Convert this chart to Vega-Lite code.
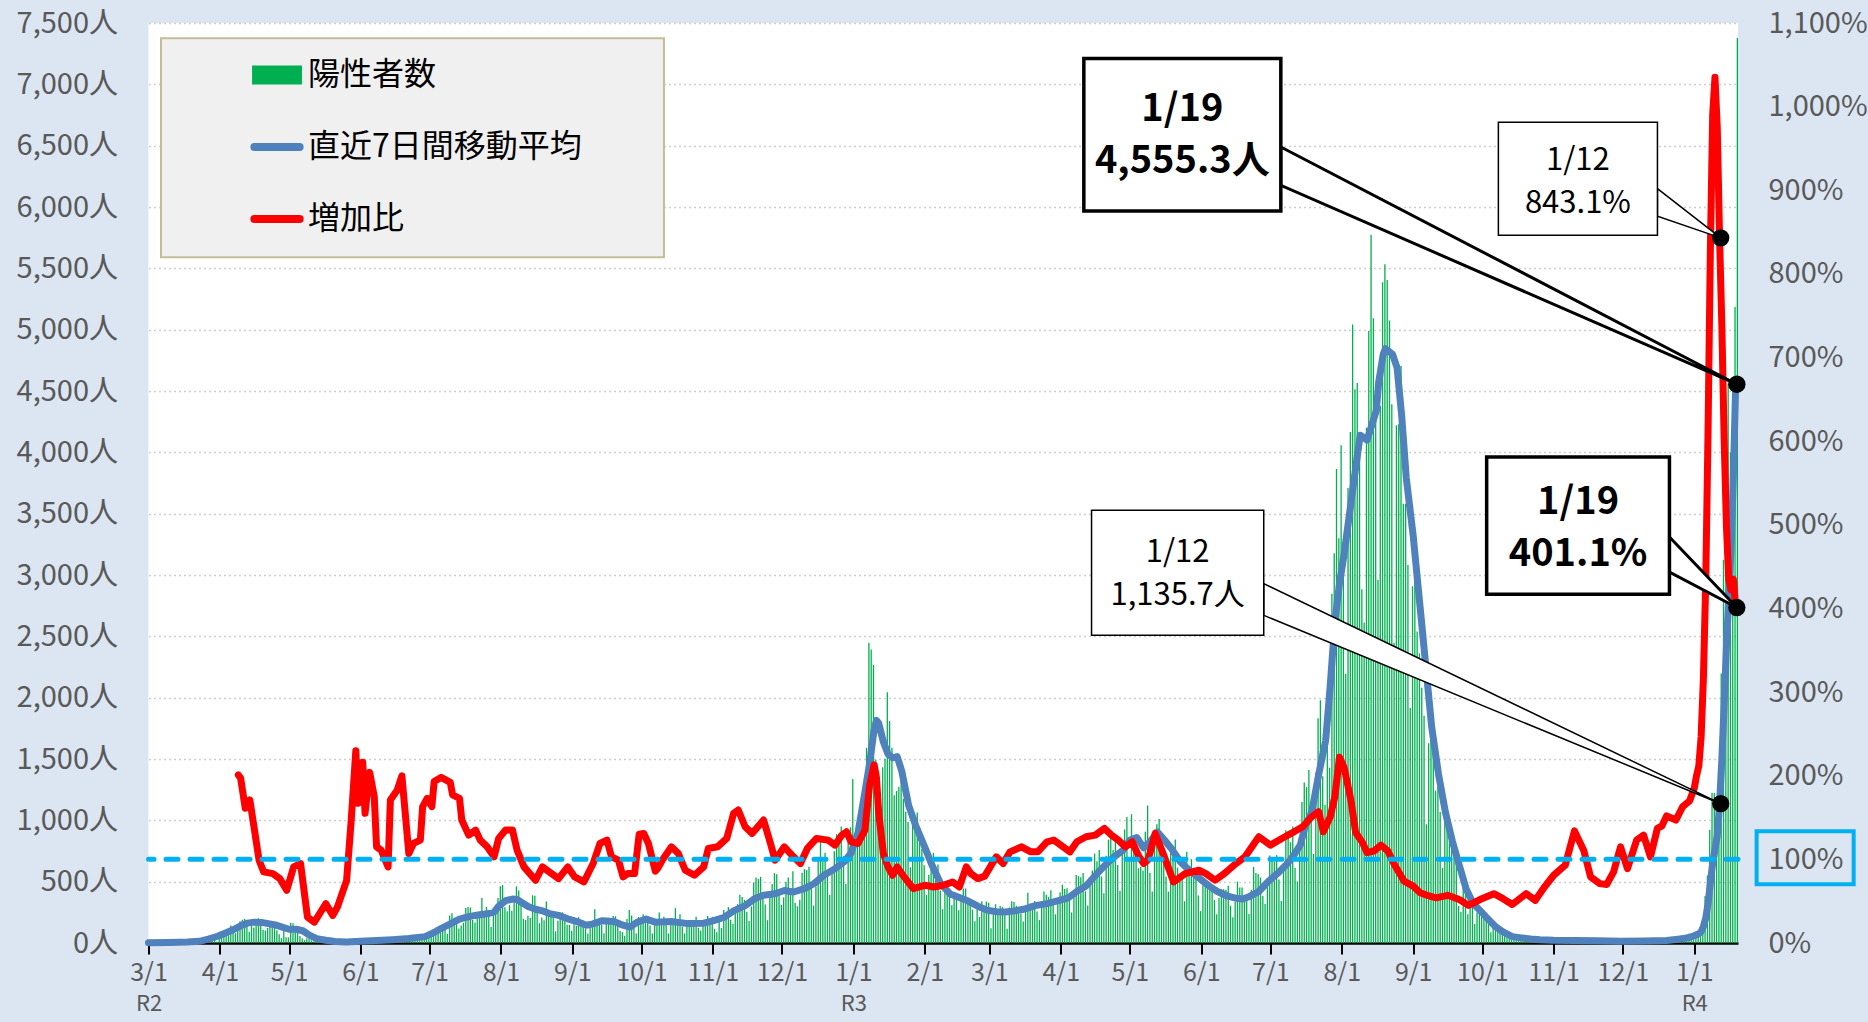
{
"$schema": "https://vega.github.io/schema/vega-lite/v6.json",
"width": 1589.5,
"height": 920,
"autosize": {"type": "none"},
"padding": {"left": 148.5, "top": 23, "right": 130, "bottom": 79},
"background": "#dce6f2",
"config": {
  "view": {"fill": "white", "stroke": null},
  "font": "Noto Sans CJK JP",
  "axis": {"labelFont": "Noto Sans CJK JP"},
  "legend": {"labelFont": "Noto Sans CJK JP"}
},
"datasets": {
"daily": [
{"d":"2020-03-01","n":3},{"d":"2020-03-02","n":1},{"d":"2020-03-03","n":1},{"d":"2020-03-04","n":4},{"d":"2020-03-05","n":8},{"d":"2020-03-06","n":3},{"d":"2020-03-07","n":2},{"d":"2020-03-08","n":0},{"d":"2020-03-09","n":2},{"d":"2020-03-10","n":1},
{"d":"2020-03-11","n":7},{"d":"2020-03-12","n":1},{"d":"2020-03-13","n":2},{"d":"2020-03-14","n":3},{"d":"2020-03-15","n":4},{"d":"2020-03-16","n":3},{"d":"2020-03-17","n":6},{"d":"2020-03-18","n":9},{"d":"2020-03-19","n":7},{"d":"2020-03-20","n":11},
{"d":"2020-03-21","n":7},{"d":"2020-03-22","n":3},{"d":"2020-03-23","n":16},{"d":"2020-03-24","n":17},{"d":"2020-03-25","n":41},{"d":"2020-03-26","n":47},{"d":"2020-03-27","n":40},{"d":"2020-03-28","n":63},{"d":"2020-03-29","n":68},{"d":"2020-03-30","n":13},{"d":"2020-03-31","n":78},
{"d":"2020-04-01","n":66},{"d":"2020-04-02","n":97},{"d":"2020-04-03","n":89},{"d":"2020-04-04","n":118},{"d":"2020-04-05","n":143},{"d":"2020-04-06","n":83},{"d":"2020-04-07","n":80},{"d":"2020-04-08","n":144},{"d":"2020-04-09","n":178},{"d":"2020-04-10","n":189},
{"d":"2020-04-11","n":197},{"d":"2020-04-12","n":166},{"d":"2020-04-13","n":91},{"d":"2020-04-14","n":161},{"d":"2020-04-15","n":127},{"d":"2020-04-16","n":149},{"d":"2020-04-17","n":201},{"d":"2020-04-18","n":181},{"d":"2020-04-19","n":107},{"d":"2020-04-20","n":102},
{"d":"2020-04-21","n":123},{"d":"2020-04-22","n":132},{"d":"2020-04-23","n":134},{"d":"2020-04-24","n":161},{"d":"2020-04-25","n":103},{"d":"2020-04-26","n":72},{"d":"2020-04-27","n":39},{"d":"2020-04-28","n":112},{"d":"2020-04-29","n":47},{"d":"2020-04-30","n":46},
{"d":"2020-05-01","n":165},{"d":"2020-05-02","n":160},{"d":"2020-05-03","n":91},{"d":"2020-05-04","n":87},{"d":"2020-05-05","n":58},{"d":"2020-05-06","n":38},{"d":"2020-05-07","n":23},{"d":"2020-05-08","n":39},{"d":"2020-05-09","n":36},{"d":"2020-05-10","n":22},
{"d":"2020-05-11","n":15},{"d":"2020-05-12","n":28},{"d":"2020-05-13","n":10},{"d":"2020-05-14","n":30},{"d":"2020-05-15","n":9},{"d":"2020-05-16","n":14},{"d":"2020-05-17","n":5},{"d":"2020-05-18","n":10},{"d":"2020-05-19","n":5},{"d":"2020-05-20","n":5},
{"d":"2020-05-21","n":11},{"d":"2020-05-22","n":3},{"d":"2020-05-23","n":2},{"d":"2020-05-24","n":14},{"d":"2020-05-25","n":8},{"d":"2020-05-26","n":10},{"d":"2020-05-27","n":11},{"d":"2020-05-28","n":15},{"d":"2020-05-29","n":22},{"d":"2020-05-30","n":14},{"d":"2020-05-31","n":5},
{"d":"2020-06-01","n":13},{"d":"2020-06-02","n":34},{"d":"2020-06-03","n":12},{"d":"2020-06-04","n":28},{"d":"2020-06-05","n":20},{"d":"2020-06-06","n":26},{"d":"2020-06-07","n":14},{"d":"2020-06-08","n":13},{"d":"2020-06-09","n":12},{"d":"2020-06-10","n":18},
{"d":"2020-06-11","n":22},{"d":"2020-06-12","n":25},{"d":"2020-06-13","n":24},{"d":"2020-06-14","n":47},{"d":"2020-06-15","n":48},{"d":"2020-06-16","n":27},{"d":"2020-06-17","n":16},{"d":"2020-06-18","n":41},{"d":"2020-06-19","n":35},{"d":"2020-06-20","n":39},
{"d":"2020-06-21","n":35},{"d":"2020-06-22","n":29},{"d":"2020-06-23","n":31},{"d":"2020-06-24","n":55},{"d":"2020-06-25","n":48},{"d":"2020-06-26","n":54},{"d":"2020-06-27","n":57},{"d":"2020-06-28","n":60},{"d":"2020-06-29","n":58},{"d":"2020-06-30","n":54},
{"d":"2020-07-01","n":67},{"d":"2020-07-02","n":107},{"d":"2020-07-03","n":124},{"d":"2020-07-04","n":131},{"d":"2020-07-05","n":111},{"d":"2020-07-06","n":102},{"d":"2020-07-07","n":106},{"d":"2020-07-08","n":75},{"d":"2020-07-09","n":224},{"d":"2020-07-10","n":243},
{"d":"2020-07-11","n":206},{"d":"2020-07-12","n":206},{"d":"2020-07-13","n":119},{"d":"2020-07-14","n":143},{"d":"2020-07-15","n":165},{"d":"2020-07-16","n":286},{"d":"2020-07-17","n":293},{"d":"2020-07-18","n":290},{"d":"2020-07-19","n":188},{"d":"2020-07-20","n":168},
{"d":"2020-07-21","n":237},{"d":"2020-07-22","n":238},{"d":"2020-07-23","n":366},{"d":"2020-07-24","n":260},{"d":"2020-07-25","n":295},{"d":"2020-07-26","n":239},{"d":"2020-07-27","n":131},{"d":"2020-07-28","n":266},{"d":"2020-07-29","n":250},{"d":"2020-07-30","n":367},{"d":"2020-07-31","n":463},
{"d":"2020-08-01","n":472},{"d":"2020-08-02","n":292},{"d":"2020-08-03","n":258},{"d":"2020-08-04","n":309},{"d":"2020-08-05","n":263},{"d":"2020-08-06","n":360},{"d":"2020-08-07","n":462},{"d":"2020-08-08","n":429},{"d":"2020-08-09","n":331},{"d":"2020-08-10","n":197},
{"d":"2020-08-11","n":188},{"d":"2020-08-12","n":222},{"d":"2020-08-13","n":206},{"d":"2020-08-14","n":389},{"d":"2020-08-15","n":385},{"d":"2020-08-16","n":260},{"d":"2020-08-17","n":161},{"d":"2020-08-18","n":207},{"d":"2020-08-19","n":186},{"d":"2020-08-20","n":339},
{"d":"2020-08-21","n":258},{"d":"2020-08-22","n":256},{"d":"2020-08-23","n":212},{"d":"2020-08-24","n":95},{"d":"2020-08-25","n":182},{"d":"2020-08-26","n":236},{"d":"2020-08-27","n":250},{"d":"2020-08-28","n":226},{"d":"2020-08-29","n":148},{"d":"2020-08-30","n":148},{"d":"2020-08-31","n":100},
{"d":"2020-09-01","n":170},{"d":"2020-09-02","n":141},{"d":"2020-09-03","n":211},{"d":"2020-09-04","n":136},{"d":"2020-09-05","n":181},{"d":"2020-09-06","n":116},{"d":"2020-09-07","n":77},{"d":"2020-09-08","n":170},{"d":"2020-09-09","n":149},{"d":"2020-09-10","n":276},
{"d":"2020-09-11","n":187},{"d":"2020-09-12","n":146},{"d":"2020-09-13","n":146},{"d":"2020-09-14","n":80},{"d":"2020-09-15","n":163},{"d":"2020-09-16","n":163},{"d":"2020-09-17","n":172},{"d":"2020-09-18","n":220},{"d":"2020-09-19","n":218},{"d":"2020-09-20","n":162},
{"d":"2020-09-21","n":98},{"d":"2020-09-22","n":88},{"d":"2020-09-23","n":59},{"d":"2020-09-24","n":195},{"d":"2020-09-25","n":270},{"d":"2020-09-26","n":224},{"d":"2020-09-27","n":173},{"d":"2020-09-28","n":78},{"d":"2020-09-29","n":212},{"d":"2020-09-30","n":194},
{"d":"2020-10-01","n":235},{"d":"2020-10-02","n":196},{"d":"2020-10-03","n":207},{"d":"2020-10-04","n":143},{"d":"2020-10-05","n":78},{"d":"2020-10-06","n":177},{"d":"2020-10-07","n":186},{"d":"2020-10-08","n":248},{"d":"2020-10-09","n":186},{"d":"2020-10-10","n":213},
{"d":"2020-10-11","n":146},{"d":"2020-10-12","n":78},{"d":"2020-10-13","n":166},{"d":"2020-10-14","n":177},{"d":"2020-10-15","n":284},{"d":"2020-10-16","n":184},{"d":"2020-10-17","n":235},{"d":"2020-10-18","n":132},{"d":"2020-10-19","n":78},{"d":"2020-10-20","n":139},
{"d":"2020-10-21","n":150},{"d":"2020-10-22","n":185},{"d":"2020-10-23","n":186},{"d":"2020-10-24","n":215},{"d":"2020-10-25","n":124},{"d":"2020-10-26","n":102},{"d":"2020-10-27","n":158},{"d":"2020-10-28","n":171},{"d":"2020-10-29","n":221},{"d":"2020-10-30","n":199},{"d":"2020-10-31","n":215},
{"d":"2020-11-01","n":116},{"d":"2020-11-02","n":87},{"d":"2020-11-03","n":209},{"d":"2020-11-04","n":122},{"d":"2020-11-05","n":269},{"d":"2020-11-06","n":242},{"d":"2020-11-07","n":294},{"d":"2020-11-08","n":189},{"d":"2020-11-09","n":157},{"d":"2020-11-10","n":293},
{"d":"2020-11-11","n":317},{"d":"2020-11-12","n":393},{"d":"2020-11-13","n":374},{"d":"2020-11-14","n":352},{"d":"2020-11-15","n":255},{"d":"2020-11-16","n":180},{"d":"2020-11-17","n":298},{"d":"2020-11-18","n":493},{"d":"2020-11-19","n":534},{"d":"2020-11-20","n":522},
{"d":"2020-11-21","n":539},{"d":"2020-11-22","n":391},{"d":"2020-11-23","n":314},{"d":"2020-11-24","n":186},{"d":"2020-11-25","n":401},{"d":"2020-11-26","n":481},{"d":"2020-11-27","n":570},{"d":"2020-11-28","n":561},{"d":"2020-11-29","n":418},{"d":"2020-11-30","n":311},
{"d":"2020-12-01","n":372},{"d":"2020-12-02","n":500},{"d":"2020-12-03","n":533},{"d":"2020-12-04","n":449},{"d":"2020-12-05","n":584},{"d":"2020-12-06","n":327},{"d":"2020-12-07","n":299},{"d":"2020-12-08","n":352},{"d":"2020-12-09","n":572},{"d":"2020-12-10","n":602},
{"d":"2020-12-11","n":595},{"d":"2020-12-12","n":621},{"d":"2020-12-13","n":480},{"d":"2020-12-14","n":305},{"d":"2020-12-15","n":460},{"d":"2020-12-16","n":678},{"d":"2020-12-17","n":822},{"d":"2020-12-18","n":664},{"d":"2020-12-19","n":736},{"d":"2020-12-20","n":556},
{"d":"2020-12-21","n":392},{"d":"2020-12-22","n":563},{"d":"2020-12-23","n":748},{"d":"2020-12-24","n":888},{"d":"2020-12-25","n":884},{"d":"2020-12-26","n":949},{"d":"2020-12-27","n":708},{"d":"2020-12-28","n":481},{"d":"2020-12-29","n":856},{"d":"2020-12-30","n":944},{"d":"2020-12-31","n":1337},
{"d":"2021-01-01","n":783},{"d":"2021-01-02","n":814},{"d":"2021-01-03","n":816},{"d":"2021-01-04","n":884},{"d":"2021-01-05","n":1278},{"d":"2021-01-06","n":1591},{"d":"2021-01-07","n":2447},{"d":"2021-01-08","n":2392},{"d":"2021-01-09","n":2268},{"d":"2021-01-10","n":1494},
{"d":"2021-01-11","n":1219},{"d":"2021-01-12","n":970},{"d":"2021-01-13","n":1433},{"d":"2021-01-14","n":1502},{"d":"2021-01-15","n":2044},{"d":"2021-01-16","n":1809},{"d":"2021-01-17","n":1592},{"d":"2021-01-18","n":1204},{"d":"2021-01-19","n":1240},{"d":"2021-01-20","n":1274},
{"d":"2021-01-21","n":1471},{"d":"2021-01-22","n":1175},{"d":"2021-01-23","n":1070},{"d":"2021-01-24","n":986},{"d":"2021-01-25","n":618},{"d":"2021-01-26","n":1026},{"d":"2021-01-27","n":973},{"d":"2021-01-28","n":1064},{"d":"2021-01-29","n":868},{"d":"2021-01-30","n":769},{"d":"2021-01-31","n":633},
{"d":"2021-02-01","n":393},{"d":"2021-02-02","n":556},{"d":"2021-02-03","n":676},{"d":"2021-02-04","n":734},{"d":"2021-02-05","n":577},{"d":"2021-02-06","n":639},{"d":"2021-02-07","n":429},{"d":"2021-02-08","n":276},{"d":"2021-02-09","n":412},{"d":"2021-02-10","n":434},
{"d":"2021-02-11","n":378},{"d":"2021-02-12","n":307},{"d":"2021-02-13","n":369},{"d":"2021-02-14","n":371},{"d":"2021-02-15","n":266},{"d":"2021-02-16","n":378},{"d":"2021-02-17","n":445},{"d":"2021-02-18","n":445},{"d":"2021-02-19","n":353},{"d":"2021-02-20","n":327},
{"d":"2021-02-21","n":272},{"d":"2021-02-22","n":178},{"d":"2021-02-23","n":275},{"d":"2021-02-24","n":213},{"d":"2021-02-25","n":340},{"d":"2021-02-26","n":270},{"d":"2021-02-27","n":337},{"d":"2021-02-28","n":329},
{"d":"2021-03-01","n":121},{"d":"2021-03-02","n":232},{"d":"2021-03-03","n":316},{"d":"2021-03-04","n":279},{"d":"2021-03-05","n":301},{"d":"2021-03-06","n":293},{"d":"2021-03-07","n":237},{"d":"2021-03-08","n":116},{"d":"2021-03-09","n":290},{"d":"2021-03-10","n":340},
{"d":"2021-03-11","n":335},{"d":"2021-03-12","n":304},{"d":"2021-03-13","n":239},{"d":"2021-03-14","n":239},{"d":"2021-03-15","n":175},{"d":"2021-03-16","n":300},{"d":"2021-03-17","n":409},{"d":"2021-03-18","n":323},{"d":"2021-03-19","n":303},{"d":"2021-03-20","n":342},
{"d":"2021-03-21","n":256},{"d":"2021-03-22","n":187},{"d":"2021-03-23","n":337},{"d":"2021-03-24","n":420},{"d":"2021-03-25","n":394},{"d":"2021-03-26","n":376},{"d":"2021-03-27","n":430},{"d":"2021-03-28","n":313},{"d":"2021-03-29","n":234},{"d":"2021-03-30","n":364},{"d":"2021-03-31","n":414},
{"d":"2021-04-01","n":475},{"d":"2021-04-02","n":440},{"d":"2021-04-03","n":446},{"d":"2021-04-04","n":355},{"d":"2021-04-05","n":249},{"d":"2021-04-06","n":399},{"d":"2021-04-07","n":555},{"d":"2021-04-08","n":545},{"d":"2021-04-09","n":537},{"d":"2021-04-10","n":570},
{"d":"2021-04-11","n":421},{"d":"2021-04-12","n":306},{"d":"2021-04-13","n":510},{"d":"2021-04-14","n":591},{"d":"2021-04-15","n":729},{"d":"2021-04-16","n":667},{"d":"2021-04-17","n":759},{"d":"2021-04-18","n":543},{"d":"2021-04-19","n":405},{"d":"2021-04-20","n":711},
{"d":"2021-04-21","n":843},{"d":"2021-04-22","n":861},{"d":"2021-04-23","n":759},{"d":"2021-04-24","n":876},{"d":"2021-04-25","n":635},{"d":"2021-04-26","n":425},{"d":"2021-04-27","n":828},{"d":"2021-04-28","n":925},{"d":"2021-04-29","n":1027},{"d":"2021-04-30","n":698},
{"d":"2021-05-01","n":1050},{"d":"2021-05-02","n":879},{"d":"2021-05-03","n":708},{"d":"2021-05-04","n":609},{"d":"2021-05-05","n":621},{"d":"2021-05-06","n":591},{"d":"2021-05-07","n":907},{"d":"2021-05-08","n":1121},{"d":"2021-05-09","n":573},{"d":"2021-05-10","n":419},
{"d":"2021-05-11","n":925},{"d":"2021-05-12","n":969},{"d":"2021-05-13","n":1010},{"d":"2021-05-14","n":854},{"d":"2021-05-15","n":772},{"d":"2021-05-16","n":542},{"d":"2021-05-17","n":419},{"d":"2021-05-18","n":732},{"d":"2021-05-19","n":766},{"d":"2021-05-20","n":843},
{"d":"2021-05-21","n":614},{"d":"2021-05-22","n":539},{"d":"2021-05-23","n":535},{"d":"2021-05-24","n":340},{"d":"2021-05-25","n":743},{"d":"2021-05-26","n":597},{"d":"2021-05-27","n":684},{"d":"2021-05-28","n":614},{"d":"2021-05-29","n":539},{"d":"2021-05-30","n":388},{"d":"2021-05-31","n":260},
{"d":"2021-06-01","n":471},{"d":"2021-06-02","n":487},{"d":"2021-06-03","n":472},{"d":"2021-06-04","n":436},{"d":"2021-06-05","n":436},{"d":"2021-06-06","n":351},{"d":"2021-06-07","n":235},{"d":"2021-06-08","n":369},{"d":"2021-06-09","n":440},{"d":"2021-06-10","n":439},
{"d":"2021-06-11","n":435},{"d":"2021-06-12","n":467},{"d":"2021-06-13","n":304},{"d":"2021-06-14","n":209},{"d":"2021-06-15","n":337},{"d":"2021-06-16","n":501},{"d":"2021-06-17","n":452},{"d":"2021-06-18","n":453},{"d":"2021-06-19","n":388},{"d":"2021-06-20","n":376},
{"d":"2021-06-21","n":236},{"d":"2021-06-22","n":435},{"d":"2021-06-23","n":619},{"d":"2021-06-24","n":570},{"d":"2021-06-25","n":562},{"d":"2021-06-26","n":534},{"d":"2021-06-27","n":386},{"d":"2021-06-28","n":317},{"d":"2021-06-29","n":476},{"d":"2021-06-30","n":714},
{"d":"2021-07-01","n":673},{"d":"2021-07-02","n":660},{"d":"2021-07-03","n":716},{"d":"2021-07-04","n":518},{"d":"2021-07-05","n":342},{"d":"2021-07-06","n":593},{"d":"2021-07-07","n":920},{"d":"2021-07-08","n":896},{"d":"2021-07-09","n":822},{"d":"2021-07-10","n":950},
{"d":"2021-07-11","n":614},{"d":"2021-07-12","n":502},{"d":"2021-07-13","n":830},{"d":"2021-07-14","n":1149},{"d":"2021-07-15","n":1308},{"d":"2021-07-16","n":1271},{"d":"2021-07-17","n":1410},{"d":"2021-07-18","n":1008},{"d":"2021-07-19","n":727},{"d":"2021-07-20","n":1387},
{"d":"2021-07-21","n":1832},{"d":"2021-07-22","n":1979},{"d":"2021-07-23","n":1359},{"d":"2021-07-24","n":1128},{"d":"2021-07-25","n":1763},{"d":"2021-07-26","n":1429},{"d":"2021-07-27","n":2848},{"d":"2021-07-28","n":3177},{"d":"2021-07-29","n":3865},{"d":"2021-07-30","n":3300},{"d":"2021-07-31","n":4058},
{"d":"2021-08-01","n":3058},{"d":"2021-08-02","n":2195},{"d":"2021-08-03","n":3709},{"d":"2021-08-04","n":4166},{"d":"2021-08-05","n":5042},{"d":"2021-08-06","n":4515},{"d":"2021-08-07","n":4566},{"d":"2021-08-08","n":4066},{"d":"2021-08-09","n":2884},{"d":"2021-08-10","n":2612},
{"d":"2021-08-11","n":4200},{"d":"2021-08-12","n":4989},{"d":"2021-08-13","n":5773},{"d":"2021-08-14","n":5094},{"d":"2021-08-15","n":4295},{"d":"2021-08-16","n":2962},{"d":"2021-08-17","n":4377},{"d":"2021-08-18","n":5386},{"d":"2021-08-19","n":5534},{"d":"2021-08-20","n":5405},
{"d":"2021-08-21","n":5074},{"d":"2021-08-22","n":4392},{"d":"2021-08-23","n":2447},{"d":"2021-08-24","n":4220},{"d":"2021-08-25","n":4228},{"d":"2021-08-26","n":4704},{"d":"2021-08-27","n":3581},{"d":"2021-08-28","n":3581},{"d":"2021-08-29","n":3081},{"d":"2021-08-30","n":1915},{"d":"2021-08-31","n":2909},
{"d":"2021-09-01","n":3168},{"d":"2021-09-02","n":2539},{"d":"2021-09-03","n":2362},{"d":"2021-09-04","n":2080},{"d":"2021-09-05","n":1853},{"d":"2021-09-06","n":968},{"d":"2021-09-07","n":1629},{"d":"2021-09-08","n":1834},{"d":"2021-09-09","n":1675},{"d":"2021-09-10","n":1242},
{"d":"2021-09-11","n":1273},{"d":"2021-09-12","n":1067},{"d":"2021-09-13","n":611},{"d":"2021-09-14","n":1004},{"d":"2021-09-15","n":1052},{"d":"2021-09-16","n":831},{"d":"2021-09-17","n":782},{"d":"2021-09-18","n":862},{"d":"2021-09-19","n":667},{"d":"2021-09-20","n":302},
{"d":"2021-09-21","n":253},{"d":"2021-09-22","n":537},{"d":"2021-09-23","n":531},{"d":"2021-09-24","n":235},{"d":"2021-09-25","n":382},{"d":"2021-09-26","n":362},{"d":"2021-09-27","n":154},{"d":"2021-09-28","n":248},{"d":"2021-09-29","n":267},{"d":"2021-09-30","n":218},
{"d":"2021-10-01","n":200},{"d":"2021-10-02","n":196},{"d":"2021-10-03","n":161},{"d":"2021-10-04","n":87},{"d":"2021-10-05","n":149},{"d":"2021-10-06","n":144},{"d":"2021-10-07","n":138},{"d":"2021-10-08","n":82},{"d":"2021-10-09","n":82},{"d":"2021-10-10","n":60},
{"d":"2021-10-11","n":49},{"d":"2021-10-12","n":77},{"d":"2021-10-13","n":72},{"d":"2021-10-14","n":62},{"d":"2021-10-15","n":66},{"d":"2021-10-16","n":60},{"d":"2021-10-17","n":40},{"d":"2021-10-18","n":29},{"d":"2021-10-19","n":36},{"d":"2021-10-20","n":41},
{"d":"2021-10-21","n":36},{"d":"2021-10-22","n":26},{"d":"2021-10-23","n":32},{"d":"2021-10-24","n":19},{"d":"2021-10-25","n":17},{"d":"2021-10-26","n":29},{"d":"2021-10-27","n":36},{"d":"2021-10-28","n":21},{"d":"2021-10-29","n":20},{"d":"2021-10-30","n":22},{"d":"2021-10-31","n":17},
{"d":"2021-11-01","n":9},{"d":"2021-11-02","n":18},{"d":"2021-11-03","n":22},{"d":"2021-11-04","n":24},{"d":"2021-11-05","n":26},{"d":"2021-11-06","n":20},{"d":"2021-11-07","n":21},{"d":"2021-11-08","n":9},{"d":"2021-11-09","n":19},{"d":"2021-11-10","n":22},
{"d":"2021-11-11","n":21},{"d":"2021-11-12","n":27},{"d":"2021-11-13","n":26},{"d":"2021-11-14","n":12},{"d":"2021-11-15","n":7},{"d":"2021-11-16","n":21},{"d":"2021-11-17","n":21},{"d":"2021-11-18","n":16},{"d":"2021-11-19","n":29},{"d":"2021-11-20","n":23},
{"d":"2021-11-21","n":13},{"d":"2021-11-22","n":6},{"d":"2021-11-23","n":17},{"d":"2021-11-24","n":11},{"d":"2021-11-25","n":19},{"d":"2021-11-26","n":18},{"d":"2021-11-27","n":21},{"d":"2021-11-28","n":15},{"d":"2021-11-29","n":12},{"d":"2021-11-30","n":12},
{"d":"2021-12-01","n":15},{"d":"2021-12-02","n":14},{"d":"2021-12-03","n":21},{"d":"2021-12-04","n":15},{"d":"2021-12-05","n":17},{"d":"2021-12-06","n":13},{"d":"2021-12-07","n":18},{"d":"2021-12-08","n":11},{"d":"2021-12-09","n":20},{"d":"2021-12-10","n":23},
{"d":"2021-12-11","n":18},{"d":"2021-12-12","n":18},{"d":"2021-12-13","n":13},{"d":"2021-12-14","n":20},{"d":"2021-12-15","n":22},{"d":"2021-12-16","n":21},{"d":"2021-12-17","n":30},{"d":"2021-12-18","n":22},{"d":"2021-12-19","n":28},{"d":"2021-12-20","n":15},
{"d":"2021-12-21","n":33},{"d":"2021-12-22","n":37},{"d":"2021-12-23","n":30},{"d":"2021-12-24","n":37},{"d":"2021-12-25","n":37},{"d":"2021-12-26","n":35},{"d":"2021-12-27","n":35},{"d":"2021-12-28","n":46},{"d":"2021-12-29","n":76},{"d":"2021-12-30","n":64},{"d":"2021-12-31","n":78},
{"d":"2022-01-01","n":79},{"d":"2022-01-02","n":84},{"d":"2022-01-03","n":103},{"d":"2022-01-04","n":151},{"d":"2022-01-05","n":384},{"d":"2022-01-06","n":550},{"d":"2022-01-07","n":922},{"d":"2022-01-08","n":1224},{"d":"2022-01-09","n":1223},{"d":"2022-01-10","n":871},
{"d":"2022-01-11","n":962},{"d":"2022-01-12","n":2198},{"d":"2022-01-13","n":3124},{"d":"2022-01-14","n":4051},{"d":"2022-01-15","n":4561},{"d":"2022-01-16","n":3995},{"d":"2022-01-17","n":3594},{"d":"2022-01-18","n":5185},{"d":"2022-01-19","n":7377}
],
"avg": [
{"d":"2020-03-01","a":3},{"d":"2020-03-10","a":4},{"d":"2020-03-18","a":8},{"d":"2020-03-23","a":14},{"d":"2020-03-27","a":32},{"d":"2020-03-31","a":55},
{"d":"2020-04-04","a":85},{"d":"2020-04-07","a":110},{"d":"2020-04-10","a":140},{"d":"2020-04-13","a":162},{"d":"2020-04-16","a":170},{"d":"2020-04-19","a":168},{"d":"2020-04-22","a":158},{"d":"2020-04-25","a":147},{"d":"2020-04-28","a":130},
{"d":"2020-05-01","a":112},{"d":"2020-05-04","a":112},{"d":"2020-05-07","a":100},{"d":"2020-05-10","a":62},{"d":"2020-05-13","a":35},{"d":"2020-05-17","a":22},{"d":"2020-05-21","a":12},{"d":"2020-05-26","a":9},
{"d":"2020-06-01","a":14},{"d":"2020-06-08","a":20},{"d":"2020-06-15","a":27},{"d":"2020-06-22","a":36},{"d":"2020-06-29","a":52},
{"d":"2020-07-03","a":85},{"d":"2020-07-06","a":118},{"d":"2020-07-10","a":156},{"d":"2020-07-14","a":195},{"d":"2020-07-18","a":215},{"d":"2020-07-22","a":228},{"d":"2020-07-26","a":238},{"d":"2020-07-29","a":252},{"d":"2020-07-31","a":300},
{"d":"2020-08-03","a":345},{"d":"2020-08-06","a":358},{"d":"2020-08-08","a":355},{"d":"2020-08-10","a":330},{"d":"2020-08-13","a":295},{"d":"2020-08-16","a":275},{"d":"2020-08-19","a":262},{"d":"2020-08-22","a":240},{"d":"2020-08-26","a":225},{"d":"2020-08-30","a":197},
{"d":"2020-09-03","a":175},{"d":"2020-09-07","a":145},{"d":"2020-09-10","a":156},{"d":"2020-09-14","a":182},{"d":"2020-09-19","a":175},{"d":"2020-09-23","a":145},{"d":"2020-09-26","a":130},{"d":"2020-09-29","a":168},
{"d":"2020-10-03","a":195},{"d":"2020-10-07","a":170},{"d":"2020-10-14","a":175},{"d":"2020-10-21","a":158},{"d":"2020-10-28","a":162},
{"d":"2020-11-01","a":180},{"d":"2020-11-06","a":210},{"d":"2020-11-10","a":262},{"d":"2020-11-15","a":305},{"d":"2020-11-19","a":360},{"d":"2020-11-23","a":390},{"d":"2020-11-28","a":402},
{"d":"2020-12-02","a":428},{"d":"2020-12-06","a":416},{"d":"2020-12-11","a":445},{"d":"2020-12-15","a":485},{"d":"2020-12-19","a":550},{"d":"2020-12-24","a":605},{"d":"2020-12-28","a":662},{"d":"2020-12-31","a":735},
{"d":"2021-01-03","a":900},{"d":"2021-01-06","a":1230},{"d":"2021-01-08","a":1460},{"d":"2021-01-10","a":1740},{"d":"2021-01-11","a":1815},{"d":"2021-01-12","a":1790},{"d":"2021-01-14","a":1640},{"d":"2021-01-16","a":1540},{"d":"2021-01-18","a":1510},{"d":"2021-01-20","a":1520},{"d":"2021-01-22","a":1400},{"d":"2021-01-25","a":1120},{"d":"2021-01-28","a":960},
{"d":"2021-02-01","a":780},{"d":"2021-02-04","a":640},{"d":"2021-02-08","a":480},{"d":"2021-02-12","a":400},{"d":"2021-02-16","a":370},{"d":"2021-02-20","a":340},{"d":"2021-02-24","a":300},{"d":"2021-02-28","a":268},
{"d":"2021-03-04","a":255},{"d":"2021-03-08","a":253},{"d":"2021-03-12","a":262},{"d":"2021-03-16","a":275},{"d":"2021-03-21","a":305},{"d":"2021-03-26","a":321},{"d":"2021-03-31","a":345},
{"d":"2021-04-04","a":365},{"d":"2021-04-08","a":420},{"d":"2021-04-12","a":465},{"d":"2021-04-16","a":550},{"d":"2021-04-20","a":630},{"d":"2021-04-24","a":700},{"d":"2021-04-28","a":755},
{"d":"2021-05-01","a":840},{"d":"2021-05-04","a":860},{"d":"2021-05-07","a":775},{"d":"2021-05-10","a":830},{"d":"2021-05-13","a":905},{"d":"2021-05-16","a":840},{"d":"2021-05-19","a":770},{"d":"2021-05-23","a":660},{"d":"2021-05-27","a":590},{"d":"2021-05-31","a":530},
{"d":"2021-06-04","a":470},{"d":"2021-06-08","a":420},{"d":"2021-06-12","a":385},{"d":"2021-06-16","a":365},{"d":"2021-06-19","a":358},{"d":"2021-06-22","a":380},{"d":"2021-06-26","a":420},{"d":"2021-06-30","a":500},
{"d":"2021-07-04","a":565},{"d":"2021-07-08","a":640},{"d":"2021-07-11","a":710},{"d":"2021-07-14","a":800},{"d":"2021-07-16","a":945},{"d":"2021-07-19","a":1070},{"d":"2021-07-22","a":1376},{"d":"2021-07-24","a":1560},{"d":"2021-07-25","a":1650},{"d":"2021-07-27","a":2100},{"d":"2021-07-29","a":2620},{"d":"2021-07-31","a":2930},
{"d":"2021-08-02","a":3170},{"d":"2021-08-04","a":3450},{"d":"2021-08-07","a":3870},{"d":"2021-08-09","a":4140},{"d":"2021-08-12","a":4100},{"d":"2021-08-14","a":4220},{"d":"2021-08-16","a":4340},{"d":"2021-08-17","a":4570},{"d":"2021-08-19","a":4800},{"d":"2021-08-20","a":4845},{"d":"2021-08-23","a":4800},{"d":"2021-08-25","a":4690},{"d":"2021-08-27","a":4300},{"d":"2021-08-29","a":3790},
{"d":"2021-09-01","a":3320},{"d":"2021-09-03","a":2930},{"d":"2021-09-05","a":2545},{"d":"2021-09-07","a":2155},{"d":"2021-09-09","a":1765},{"d":"2021-09-12","a":1375},{"d":"2021-09-15","a":1065},{"d":"2021-09-18","a":830},{"d":"2021-09-21","a":635},{"d":"2021-09-24","a":440},{"d":"2021-09-27","a":323},
{"d":"2021-10-01","a":245},{"d":"2021-10-04","a":185},{"d":"2021-10-07","a":129},{"d":"2021-10-10","a":90},{"d":"2021-10-14","a":52},{"d":"2021-10-18","a":42},{"d":"2021-10-22","a":33},{"d":"2021-10-26","a":27},
{"d":"2021-11-01","a":22},{"d":"2021-11-10","a":20},{"d":"2021-11-20","a":18},{"d":"2021-11-30","a":15},{"d":"2021-12-10","a":17},{"d":"2021-12-20","a":21},{"d":"2021-12-25","a":31},{"d":"2021-12-28","a":38},{"d":"2021-12-30","a":47},
{"d":"2022-01-01","a":59},{"d":"2022-01-03","a":75.7},{"d":"2022-01-04","a":90.7},{"d":"2022-01-05","a":134.7},{"d":"2022-01-06","a":204.1},{"d":"2022-01-07","a":324.7},{"d":"2022-01-08","a":488.3},{"d":"2022-01-09","a":651},{"d":"2022-01-10","a":760.7},{"d":"2022-01-11","a":876.6},{"d":"2022-01-12","a":1135.7},{"d":"2022-01-13","a":1503.4},{"d":"2022-01-14","a":1950.4},{"d":"2022-01-15","a":2427.1},{"d":"2022-01-16","a":2823},{"d":"2022-01-17","a":3212},{"d":"2022-01-18","a":3815},{"d":"2022-01-19","a":4555.3}
],
"ratio": [
{"d":"2020-04-09","r":201},{"d":"2020-04-10","r":197},{"d":"2020-04-12","r":161},{"d":"2020-04-14","r":171},{"d":"2020-04-16","r":135},{"d":"2020-04-18","r":99},{"d":"2020-04-20","r":85},{"d":"2020-04-24","r":83},{"d":"2020-04-27","r":77},{"d":"2020-04-30","r":63},
{"d":"2020-05-03","r":91},{"d":"2020-05-06","r":95},{"d":"2020-05-09","r":31},{"d":"2020-05-12","r":25},{"d":"2020-05-17","r":47},{"d":"2020-05-20","r":33},{"d":"2020-05-22","r":43},{"d":"2020-05-26","r":75},{"d":"2020-05-28","r":147},{"d":"2020-05-30","r":230},{"d":"2020-05-31","r":167},
{"d":"2020-06-02","r":216},{"d":"2020-06-03","r":155},{"d":"2020-06-05","r":204},{"d":"2020-06-07","r":175},{"d":"2020-06-08","r":115},{"d":"2020-06-10","r":111},{"d":"2020-06-13","r":91},{"d":"2020-06-14","r":171},{"d":"2020-06-17","r":183},{"d":"2020-06-19","r":200},{"d":"2020-06-22","r":107},{"d":"2020-06-24","r":119},{"d":"2020-06-27","r":123},{"d":"2020-06-28","r":163},{"d":"2020-06-30","r":173},
{"d":"2020-07-02","r":163},{"d":"2020-07-03","r":193},{"d":"2020-07-06","r":198},{"d":"2020-07-10","r":192},{"d":"2020-07-11","r":177},{"d":"2020-07-14","r":173},{"d":"2020-07-15","r":147},{"d":"2020-07-18","r":129},{"d":"2020-07-21","r":135},{"d":"2020-07-23","r":123},{"d":"2020-07-26","r":115},{"d":"2020-07-29","r":103},{"d":"2020-07-31","r":125},
{"d":"2020-08-03","r":135},{"d":"2020-08-06","r":135},{"d":"2020-08-08","r":111},{"d":"2020-08-11","r":91},{"d":"2020-08-16","r":75},{"d":"2020-08-19","r":91},{"d":"2020-08-23","r":83},{"d":"2020-08-26","r":77},{"d":"2020-08-30","r":91},
{"d":"2020-09-02","r":79},{"d":"2020-09-06","r":73},{"d":"2020-09-10","r":95},{"d":"2020-09-13","r":119},{"d":"2020-09-16","r":123},{"d":"2020-09-18","r":103},{"d":"2020-09-21","r":99},{"d":"2020-09-23","r":79},{"d":"2020-09-25","r":83},{"d":"2020-09-28","r":83},{"d":"2020-09-30","r":130},
{"d":"2020-10-02","r":131},{"d":"2020-10-04","r":119},{"d":"2020-10-07","r":86},{"d":"2020-10-08","r":89},{"d":"2020-10-10","r":99},{"d":"2020-10-14","r":115},{"d":"2020-10-17","r":107},{"d":"2020-10-20","r":87},{"d":"2020-10-24","r":81},{"d":"2020-10-28","r":91},{"d":"2020-10-30","r":113},
{"d":"2020-11-03","r":115},{"d":"2020-11-07","r":125},{"d":"2020-11-10","r":155},{"d":"2020-11-12","r":159},{"d":"2020-11-15","r":139},{"d":"2020-11-18","r":131},{"d":"2020-11-23","r":147},{"d":"2020-11-26","r":119},{"d":"2020-11-28","r":99},
{"d":"2020-12-02","r":115},{"d":"2020-12-06","r":103},{"d":"2020-12-09","r":95},{"d":"2020-12-12","r":113},{"d":"2020-12-16","r":125},{"d":"2020-12-21","r":123},{"d":"2020-12-24","r":117},{"d":"2020-12-27","r":129},{"d":"2020-12-29","r":133},{"d":"2020-12-31","r":121},
{"d":"2021-01-03","r":119},{"d":"2021-01-06","r":135},{"d":"2021-01-08","r":188},{"d":"2021-01-10","r":213},{"d":"2021-01-11","r":198},{"d":"2021-01-12","r":155},{"d":"2021-01-14","r":107},{"d":"2021-01-16","r":91},{"d":"2021-01-18","r":81},{"d":"2021-01-20","r":91},{"d":"2021-01-23","r":79},{"d":"2021-01-27","r":65},
{"d":"2021-02-01","r":69},{"d":"2021-02-05","r":67},{"d":"2021-02-09","r":69},{"d":"2021-02-13","r":73},{"d":"2021-02-16","r":67},{"d":"2021-02-19","r":91},{"d":"2021-02-21","r":83},{"d":"2021-02-24","r":77},{"d":"2021-02-27","r":80},
{"d":"2021-03-04","r":103},{"d":"2021-03-07","r":95},{"d":"2021-03-10","r":109},{"d":"2021-03-15","r":115},{"d":"2021-03-19","r":109},{"d":"2021-03-22","r":109},{"d":"2021-03-26","r":121},{"d":"2021-03-29","r":123},
{"d":"2021-04-01","r":117},{"d":"2021-04-05","r":109},{"d":"2021-04-08","r":121},{"d":"2021-04-12","r":127},{"d":"2021-04-16","r":129},{"d":"2021-04-20","r":137},{"d":"2021-04-23","r":129},{"d":"2021-04-26","r":123},{"d":"2021-04-29","r":115},
{"d":"2021-05-02","r":121},{"d":"2021-05-05","r":103},{"d":"2021-05-07","r":95},{"d":"2021-05-09","r":100},{"d":"2021-05-12","r":131},{"d":"2021-05-16","r":103},{"d":"2021-05-20","r":73},{"d":"2021-05-25","r":83},{"d":"2021-05-31","r":87},
{"d":"2021-06-03","r":83},{"d":"2021-06-07","r":75},{"d":"2021-06-11","r":83},{"d":"2021-06-16","r":95},{"d":"2021-06-20","r":103},{"d":"2021-06-26","r":127},
{"d":"2021-07-01","r":117},{"d":"2021-07-06","r":125},{"d":"2021-07-10","r":131},{"d":"2021-07-15","r":139},{"d":"2021-07-19","r":151},{"d":"2021-07-22","r":157},{"d":"2021-07-24","r":133},{"d":"2021-07-27","r":151},{"d":"2021-07-29","r":175},{"d":"2021-07-31","r":222},
{"d":"2021-08-02","r":210},{"d":"2021-08-05","r":170},{"d":"2021-08-07","r":132},{"d":"2021-08-10","r":120},{"d":"2021-08-12","r":108},{"d":"2021-08-15","r":110},{"d":"2021-08-18","r":117},{"d":"2021-08-21","r":110},{"d":"2021-08-24","r":93},{"d":"2021-08-28","r":74},
{"d":"2021-09-01","r":68},{"d":"2021-09-04","r":60},{"d":"2021-09-07","r":57},{"d":"2021-09-11","r":54},{"d":"2021-09-16","r":57},{"d":"2021-09-21","r":52},{"d":"2021-09-25","r":45},{"d":"2021-09-30","r":52},
{"d":"2021-10-06","r":59},{"d":"2021-10-10","r":53},{"d":"2021-10-14","r":46},{"d":"2021-10-20","r":59},{"d":"2021-10-24","r":51},{"d":"2021-10-28","r":67},
{"d":"2021-11-01","r":81},{"d":"2021-11-06","r":93},{"d":"2021-11-10","r":134},{"d":"2021-11-14","r":111},{"d":"2021-11-17","r":79},{"d":"2021-11-21","r":71},{"d":"2021-11-24","r":70},{"d":"2021-11-27","r":85},{"d":"2021-11-30","r":115},
{"d":"2021-12-03","r":89},{"d":"2021-12-07","r":123},{"d":"2021-12-10","r":129},{"d":"2021-12-13","r":103},{"d":"2021-12-16","r":137},{"d":"2021-12-18","r":140},{"d":"2021-12-20","r":152},{"d":"2021-12-24","r":147},{"d":"2021-12-27","r":163},{"d":"2021-12-30","r":170},
{"d":"2022-01-01","r":185},{"d":"2022-01-02","r":200},{"d":"2022-01-03","r":212},{"d":"2022-01-04","r":247},{"d":"2022-01-05","r":318},{"d":"2022-01-06","r":433},{"d":"2022-01-07","r":613},{"d":"2022-01-08","r":828},{"d":"2022-01-09","r":990},{"d":"2022-01-10","r":1035},{"d":"2022-01-11","r":975},{"d":"2022-01-12","r":843.1},{"d":"2022-01-13","r":737},{"d":"2022-01-14","r":601},{"d":"2022-01-15","r":497},{"d":"2022-01-16","r":434},{"d":"2022-01-17","r":422},{"d":"2022-01-18","r":435},{"d":"2022-01-19","r":401.1}
],
"threshold": [{"level": 100}],
"legendframe": [{"x":"2020-03-06T10:19:00Z","x2":"2020-10-10T18:14:00Z","y":7375,"y2":5590}],
"calloutL": [
{"day":"1/19","label":["1/19","4,555.3人"],"bx":"2021-04-11T00:45:00Z","bx2":"2021-07-05T13:00:00Z","by":7210,"by2":5967,"cx":"2021-05-23T18:45:00Z","cy":6788,"tx":"2022-01-19T12:00:00Z","ty":4555.3},
{"day":"1/12","label":["1/12","1,135.7人"],"bx":"2021-04-14T09:00:00Z","bx2":"2021-06-28T03:00:00Z","by":3527,"by2":2508,"cx":"2021-05-21T18:00:00Z","cy":3177,"tx":"2022-01-12T12:00:00Z","ty":1135.7}
],
"wedgeL": [
{"day":"1/19","x":"2021-07-05T13:00:00Z","y":6489,"y2":6177},
{"day":"1/19","x":"2022-01-19T12:00:00Z","y":4555.3,"y2":4555.3},
{"day":"1/12","x":"2021-06-28T03:00:00Z","y":2930,"y2":2671},
{"day":"1/12","x":"2022-01-12T12:00:00Z","y":1135.7,"y2":1135.7}
],
"calloutR": [
{"day":"1/19","label":["1/19","401.1%"],"bx":"2021-10-02T21:30:00Z","bx2":"2021-12-21T05:45:00Z","by":581.1,"by2":416.9,"cx":"2021-11-11T14:00:00Z","cy":526.6,"tx":"2022-01-19T12:00:00Z","ty":401.1},
{"day":"1/12","label":["1/12","843.1%"],"bx":"2021-10-07T23:30:00Z","bx2":"2021-12-16T00:45:00Z","by":981.3,"by2":846.2,"cx":"2021-11-11T12:00:00Z","cy":934.6,"tx":"2022-01-12T12:00:00Z","ty":843.1}
],
"wedgeR": [
{"day":"1/19","x":"2021-12-21T05:45:00Z","y":485.4,"y2":443.6},
{"day":"1/19","x":"2022-01-19T12:00:00Z","y":401.1,"y2":401.1},
{"day":"1/12","x":"2021-12-16T00:45:00Z","y":902,"y2":868.9},
{"day":"1/12","x":"2022-01-12T12:00:00Z","y":843.1,"y2":843.1}
],
"refbox": [{"label":"100%","x":"2022-01-28T02:00:00Z","x2":"2022-03-11T05:00:00Z","y":133.6,"y2":70.2}]
},
"layer": [
{
 "layer": [
  {
   "data": {"name": "daily"},
   "mark": {"type": "bar", "timeUnitBandSize": 0.8},
   "encoding": {
    "x": {"field": "d", "type": "temporal", "timeUnit": "utcyearmonthdate", "title": null,
      "scale": {"type": "utc", "nice": false, "domain": [{"year":2020,"month":3,"date":1,"utc":true},{"year":2022,"month":1,"date":20,"utc":true}]},
      "axis": {
        "orient": "bottom",
        "values": [{"year":2020,"month":3,"date":1,"utc":true},{"year":2020,"month":4,"date":1,"utc":true},{"year":2020,"month":5,"date":1,"utc":true},{"year":2020,"month":6,"date":1,"utc":true},{"year":2020,"month":7,"date":1,"utc":true},{"year":2020,"month":8,"date":1,"utc":true},{"year":2020,"month":9,"date":1,"utc":true},{"year":2020,"month":10,"date":1,"utc":true},{"year":2020,"month":11,"date":1,"utc":true},{"year":2020,"month":12,"date":1,"utc":true},
                   {"year":2021,"month":1,"date":1,"utc":true},{"year":2021,"month":2,"date":1,"utc":true},{"year":2021,"month":3,"date":1,"utc":true},{"year":2021,"month":4,"date":1,"utc":true},{"year":2021,"month":5,"date":1,"utc":true},{"year":2021,"month":6,"date":1,"utc":true},{"year":2021,"month":7,"date":1,"utc":true},{"year":2021,"month":8,"date":1,"utc":true},{"year":2021,"month":9,"date":1,"utc":true},{"year":2021,"month":10,"date":1,"utc":true},{"year":2021,"month":11,"date":1,"utc":true},{"year":2021,"month":12,"date":1,"utc":true},
                   {"year":2022,"month":1,"date":1,"utc":true}],
        "format": "%-m/%-d",
        "labelFontSize": 25, "labelColor": "#595959", "labelPadding": 6,
        "labelFlush": false, "labelOverlap": false, "labelBound": false,
        "domainColor": "black", "domainWidth": 2.5, "tickColor": "black", "tickWidth": 2, "tickSize": 11,
        "grid": false, "title": null
      }},
    "y": {"field": "n", "type": "quantitative", "title": null,
      "scale": {"domain": [0, 7500], "nice": false},
      "axis": {"values": [0,500,1000,1500,2000,2500,3000,3500,4000,4500,5000,5500,6000,6500,7000,7500],
        "labelExpr": "format(datum.value, ',') + '人'", "labelFontSize": 29, "labelColor": "#595959", "labelPadding": 31,
        "domain": false, "ticks": false, "grid": true, "gridColor": "#cfcfcf", "gridDash": [2, 3], "gridWidth": 1.5, "title": null}},
    "color": {"datum": "陽性者数", "type": "nominal",
      "scale": {"domain": ["陽性者数", "直近7日間移動平均", "増加比"], "range": ["#00b050", "#4f81bd", "#ff0000"]},
      "legend": {
        "title": null, "orient": "none", "legendX": 12.5, "legendY": 15, "direction": "vertical", "zindex": 1,
        "fillColor": null, "strokeColor": null, "padding": 21,
        "symbolType": "square", "symbolSize": 2704, "symbolOffset": 79, "symbolStrokeWidth": 8,
        "labelOffset": 15, "rowPadding": 40, "labelFontSize": 32, "labelColor": "black", "labelLimit": 600,
        "labelFont": "Noto Sans CJK JP",
        "encode": {
          "symbols": {"update": {
            "shape": {"signal": "datum.value === '陽性者数' ? 'M-0.96,-0.37H0.96V0.37H-0.96Z' : 'M-0.87,0H0.87'"},
            "fill": {"signal": "datum.value === '陽性者数' ? '#00b050' : 'transparent'"},
            "stroke": {"signal": "datum.value === '陽性者数' ? 'transparent' : (datum.value === '増加比' ? '#ff0000' : '#4f81bd')"},
            "strokeWidth": {"signal": "datum.value === '陽性者数' ? 0 : 8"},
            "strokeCap": {"value": "round"},
            "opacity": {"value": 1}, "fillOpacity": {"value": 1}, "strokeOpacity": {"value": 1}
          }}
        }
      }}
   }
  },
  {
   "data": {"name": "avg"},
   "mark": {"type": "line", "strokeWidth": 7, "strokeJoin": "round", "strokeCap": "round", "timeUnitBandPosition": 0.5},
   "encoding": {
    "x": {"field": "d", "type": "temporal", "timeUnit": "utcyearmonthdate", "title": null,
      "scale": {"type": "utc", "nice": false, "domain": [{"year":2020,"month":3,"date":1,"utc":true},{"year":2022,"month":1,"date":20,"utc":true}]}},
    "y": {"field": "a", "type": "quantitative", "title": null},
    "color": {"datum": "直近7日間移動平均", "type": "nominal", "legend": null}
   }
  }
 ]
},
{
 "layer": [
  {
   "data": {"name": "ratio"},
   "mark": {"type": "line", "strokeWidth": 7, "strokeJoin": "round", "strokeCap": "round", "timeUnitBandPosition": 0.5},
   "encoding": {
    "x": {"field": "d", "type": "temporal", "timeUnit": "utcyearmonthdate", "title": null, "axis": null,
      "scale": {"type": "utc", "nice": false, "domain": [{"year":2020,"month":3,"date":1,"utc":true},{"year":2022,"month":1,"date":20,"utc":true}]}},
    "y": {"field": "r", "type": "quantitative", "title": null,
      "scale": {"domain": [0, 1100], "nice": false},
      "axis": {"orient": "right", "values": [0,100,200,300,400,500,600,700,800,900,1000,1100],
        "labelExpr": "format(datum.value, ',') + '%'", "labelFontSize": 29, "labelColor": "#595959", "labelPadding": 30,
        "domain": false, "ticks": false, "grid": false, "title": null}},
    "color": {"datum": "増加比", "type": "nominal", "legend": null}
   }
  },
  {
   "data": {"name": "threshold"},
   "mark": {"type": "rule", "color": "#00b0f0", "strokeWidth": 5, "strokeDash": [12, 12], "strokeCap": "round"},
   "encoding": {"y": {"field": "level", "type": "quantitative", "title": null}}
  }
 ]
},
{
 "layer": [
  {
   "data": {"name": "legendframe"},
   "mark": {"type": "rect", "fill": "#f0f0f0", "stroke": "#c4bd97", "strokeWidth": 2},
   "encoding": {
    "x": {"field": "x", "type": "temporal", "title": null,
      "scale": {"type": "utc", "nice": false, "domain": [{"year":2020,"month":3,"date":1,"utc":true},{"year":2022,"month":1,"date":20,"utc":true}]},
      "axis": {"orient": "bottom", "values": [{"year":2020,"month":3,"date":1,"utc":true},{"year":2021,"month":1,"date":1,"utc":true},{"year":2022,"month":1,"date":1,"utc":true}],
        "labelExpr": "'R' + (utcyear(datum.value) - 2018)", "labelFontSize": 22, "labelColor": "#595959", "labelPadding": 50,
        "labelFlush": false, "labelOverlap": false, "labelBound": false,
        "domain": false, "ticks": false, "grid": false, "title": null}},
    "x2": {"field": "x2"},
    "y": {"field": "y", "type": "quantitative", "axis": null, "scale": {"domain": [0, 7500], "nice": false}}, "y2": {"field": "y2"}
   }
  },
  {
   "data": {"name": "wedgeL"},
   "transform": [{"filter": "datum.day == '1/19'"}],
   "mark": {"type": "area", "fill": "white", "stroke": "black", "strokeWidth": 3},
   "encoding": {
    "x": {"field": "x", "type": "temporal", "title": null},
    "y": {"field": "y", "type": "quantitative", "axis": null},
    "y2": {"field": "y2"},
    "detail": {"field": "day"}
   }
  },
  {
   "data": {"name": "wedgeL"},
   "transform": [{"filter": "datum.day == '1/12'"}],
   "mark": {"type": "area", "fill": "white", "stroke": "black", "strokeWidth": 1.5},
   "encoding": {
    "x": {"field": "x", "type": "temporal", "title": null},
    "y": {"field": "y", "type": "quantitative", "axis": null},
    "y2": {"field": "y2"},
    "detail": {"field": "day"}
   }
  },
  {
   "data": {"name": "calloutL"},
   "transform": [{"filter": "datum.day == '1/19'"}],
   "mark": {"type": "rect", "fill": "white", "stroke": "black", "strokeWidth": 3.5},
   "encoding": {
    "x": {"field": "bx", "type": "temporal", "title": null}, "x2": {"field": "bx2"},
    "y": {"field": "by", "type": "quantitative", "axis": null}, "y2": {"field": "by2"}
   }
  },
  {
   "data": {"name": "calloutL"},
   "transform": [{"filter": "datum.day == '1/12'"}],
   "mark": {"type": "rect", "fill": "white", "stroke": "black", "strokeWidth": 1.5},
   "encoding": {
    "x": {"field": "bx", "type": "temporal", "title": null}, "x2": {"field": "bx2"},
    "y": {"field": "by", "type": "quantitative", "axis": null}, "y2": {"field": "by2"}
   }
  },
  {
   "data": {"name": "calloutL"},
   "transform": [{"filter": "datum.day == '1/19'"}],
   "mark": {"type": "text", "fontSize": 38, "fontWeight": "bold", "lineHeight": 52, "align": "center", "baseline": "middle", "color": "black", "font": "Noto Sans CJK JP"},
   "encoding": {
    "x": {"field": "cx", "type": "temporal", "title": null},
    "y": {"field": "cy", "type": "quantitative", "axis": null},
    "text": {"field": "label"}
   }
  },
  {
   "data": {"name": "calloutL"},
   "transform": [{"filter": "datum.day == '1/12'"}],
   "mark": {"type": "text", "fontSize": 31, "lineHeight": 43, "align": "center", "baseline": "middle", "color": "black", "font": "Noto Sans CJK JP"},
   "encoding": {
    "x": {"field": "cx", "type": "temporal", "title": null},
    "y": {"field": "cy", "type": "quantitative", "axis": null},
    "text": {"field": "label"}
   }
  },
  {
   "data": {"name": "calloutL"},
   "mark": {"type": "circle", "size": 300, "color": "black", "opacity": 1},
   "encoding": {
    "x": {"field": "tx", "type": "temporal", "title": null},
    "y": {"field": "ty", "type": "quantitative", "axis": null}
   }
  }
 ]
},
{
 "layer": [
  {
   "data": {"name": "wedgeR"},
   "transform": [{"filter": "datum.day == '1/19'"}],
   "mark": {"type": "area", "fill": "white", "stroke": "black", "strokeWidth": 3},
   "encoding": {
    "x": {"field": "x", "type": "temporal", "title": null, "axis": null, "scale": {"type": "utc", "nice": false, "domain": [{"year":2020,"month":3,"date":1,"utc":true},{"year":2022,"month":1,"date":20,"utc":true}]}},
    "y": {"field": "y", "type": "quantitative", "axis": null, "scale": {"domain": [0, 1100], "nice": false}},
    "y2": {"field": "y2"},
    "detail": {"field": "day"}
   }
  },
  {
   "data": {"name": "wedgeR"},
   "transform": [{"filter": "datum.day == '1/12'"}],
   "mark": {"type": "area", "fill": "white", "stroke": "black", "strokeWidth": 1.5},
   "encoding": {
    "x": {"field": "x", "type": "temporal", "title": null, "axis": null},
    "y": {"field": "y", "type": "quantitative", "axis": null},
    "y2": {"field": "y2"},
    "detail": {"field": "day"}
   }
  },
  {
   "data": {"name": "calloutR"},
   "transform": [{"filter": "datum.day == '1/19'"}],
   "mark": {"type": "rect", "fill": "white", "stroke": "black", "strokeWidth": 3.5},
   "encoding": {
    "x": {"field": "bx", "type": "temporal", "title": null, "axis": null}, "x2": {"field": "bx2"},
    "y": {"field": "by", "type": "quantitative", "axis": null}, "y2": {"field": "by2"}
   }
  },
  {
   "data": {"name": "calloutR"},
   "transform": [{"filter": "datum.day == '1/12'"}],
   "mark": {"type": "rect", "fill": "white", "stroke": "black", "strokeWidth": 1.5},
   "encoding": {
    "x": {"field": "bx", "type": "temporal", "title": null, "axis": null}, "x2": {"field": "bx2"},
    "y": {"field": "by", "type": "quantitative", "axis": null}, "y2": {"field": "by2"}
   }
  },
  {
   "data": {"name": "calloutR"},
   "transform": [{"filter": "datum.day == '1/19'"}],
   "mark": {"type": "text", "fontSize": 38, "fontWeight": "bold", "lineHeight": 52, "align": "center", "baseline": "middle", "color": "black", "font": "Noto Sans CJK JP"},
   "encoding": {
    "x": {"field": "cx", "type": "temporal", "title": null, "axis": null},
    "y": {"field": "cy", "type": "quantitative", "axis": null},
    "text": {"field": "label"}
   }
  },
  {
   "data": {"name": "calloutR"},
   "transform": [{"filter": "datum.day == '1/12'"}],
   "mark": {"type": "text", "fontSize": 31, "lineHeight": 43, "align": "center", "baseline": "middle", "color": "black", "font": "Noto Sans CJK JP"},
   "encoding": {
    "x": {"field": "cx", "type": "temporal", "title": null, "axis": null},
    "y": {"field": "cy", "type": "quantitative", "axis": null},
    "text": {"field": "label"}
   }
  },
  {
   "data": {"name": "calloutR"},
   "mark": {"type": "circle", "size": 300, "color": "black", "opacity": 1},
   "encoding": {
    "x": {"field": "tx", "type": "temporal", "title": null, "axis": null},
    "y": {"field": "ty", "type": "quantitative", "axis": null}
   }
  },
  {
   "data": {"name": "refbox"},
   "mark": {"type": "rect", "fillOpacity": 0, "stroke": "#00b0f0", "strokeWidth": 4, "clip": false},
   "encoding": {
    "x": {"field": "x", "type": "temporal", "title": null, "axis": null}, "x2": {"field": "x2"},
    "y": {"field": "y", "type": "quantitative", "axis": null}, "y2": {"field": "y2"}
   }
  }
 ]
}
],
"resolve": {"scale": {"y": "independent"}, "axis": {"x": "independent"}}
}
